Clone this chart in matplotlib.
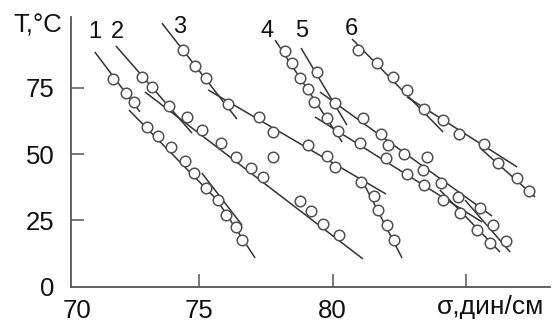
import matplotlib
matplotlib.use("Agg")
import matplotlib.pyplot as plt
import matplotlib.transforms as mtransforms

plt.rcParams['font.family'] = ['Liberation Sans', 'DejaVu Sans']

# ---- data (sigma, dyn/cm ; T, °C) ----
c1_sigma = [71.78, 72.27, 72.57, 73.05, 73.46, 73.95, 74.48, 74.81, 75.26, 75.71, 76.01, 76.39, 76.61]
c1_T     = [78.3, 73.0, 69.6, 60.2, 56.8, 52.6, 47.4, 42.8, 37.2, 32.6, 27.0, 22.5, 17.5]
c1_line_sigma = [[71.10, 72.79], [72.38, 75.86], [75.11, 76.61], [75.60, 77.10]]
c1_line_T     = [[88.5, 65.9], [66.6, 30.8], [42.8, 23.2], [33.8, 10.8]]

c2_sigma = [72.87, 73.24, 73.88, 74.55, 75.11, 75.82, 76.39, 76.95, 77.40, 78.78, 79.19, 79.64, 80.24]
c2_T     = [79.1, 75.3, 68.1, 64.0, 59.1, 54.2, 48.9, 44.7, 41.3, 32.3, 28.5, 23.6, 19.4]
c2_line_sigma = [[71.89, 74.74], [72.98, 81.14]]
c2_line_T     = [[90.8, 57.9], [73.4, 10.4]]

c3_sigma = [74.40, 74.85, 75.26, 76.09, 77.25, 77.77, 79.08, 79.79, 80.09, 81.07, 81.55, 81.70, 82.04, 82.30]
c3_T     = [89.3, 83.2, 78.7, 68.9, 64.0, 58.3, 53.4, 49.2, 45.1, 39.4, 34.2, 28.9, 23.2, 17.5]
c3_line_sigma = [[73.61, 76.42], [75.34, 82.00], [81.10, 82.60]]
c3_line_T     = [[99.4, 63.2], [74.2, 34.9], [40.2, 10.8]]

c4_sigma = [78.22, 78.48, 78.78, 79.08, 79.31, 79.79, 80.21, 81.03, 82.00, 82.79, 83.43, 84.14, 84.77, 85.41, 85.90]
c4_T     = [88.9, 84.3, 78.7, 74.5, 69.6, 63.6, 58.7, 54.2, 48.5, 42.5, 38.3, 32.6, 27.7, 21.3, 16.4]
c4_line_sigma = [[77.85, 80.36], [79.34, 85.60], [84.02, 86.27]]
c4_line_T     = [[93.0, 54.5], [64.0, 24.3], [36.4, 13.0]]

c5_sigma = [79.42, 80.09, 81.14, 81.82, 82.08, 82.68, 83.39, 84.06, 84.70, 85.52, 86.01, 86.50]
c5_T     = [81.0, 69.3, 63.6, 57.6, 53.4, 50.0, 44.0, 39.1, 33.8, 29.6, 23.2, 17.2]
c5_line_sigma = [[78.82, 80.54], [79.53, 85.97], [84.96, 86.65]]
c5_line_T     = [[90.0, 60.9], [73.4, 26.6], [32.6, 13.0]]

c6_sigma = [80.95, 81.67, 82.27, 82.79, 83.43, 84.14, 84.74, 85.67, 86.20, 86.91, 87.36]
c6_T     = [89.2, 84.3, 79.1, 74.2, 67.0, 62.8, 57.6, 53.8, 46.6, 40.9, 36.0]
c6_line_sigma = [[80.73, 84.14], [82.79, 86.91], [85.52, 87.58]]
c6_line_T     = [[93.4, 58.3], [71.5, 45.1], [52.3, 33.8]]

outlier_sigma = [77.77, 83.54]
outlier_T     = [48.9, 48.9]

curve_names = ['1', '2', '3', '4', '5', '6']
curve_label_sigma = [71.10, 71.93, 74.29, 77.55, 78.86, 80.69]
curve_label_T     = [96.0, 96.0, 97.9, 96.4, 96.4, 97.2]

xtick_pos = [70.43, 75, 80, 85]
xtick_labels = ['70', '75', '80', '']
ytick_pos = [0, 25, 50, 75]
ytick_labels = ['0', '25', '50', '75']
x_title = 'σ,дин/см'
y_title = 'T,°C'

# ---- figure ----
fig = plt.figure(figsize=(5.53, 3.26), dpi=100)
ax = fig.add_axes([71/553, 1-286.5/326, 479/553, (286.5-17)/326])
ax.set_xlim(70.21, 88.14)
ax.set_ylim(0, 101.7)

line_col = '#333333'
mk_col = '#505050'
curves = [
    (c1_sigma, c1_T, c1_line_sigma, c1_line_T),
    (c2_sigma, c2_T, c2_line_sigma, c2_line_T),
    (c3_sigma, c3_T, c3_line_sigma, c3_line_T),
    (c4_sigma, c4_T, c4_line_sigma, c4_line_T),
    (c5_sigma, c5_T, c5_line_sigma, c5_line_T),
    (c6_sigma, c6_T, c6_line_sigma, c6_line_T),
]
for xs, ys, lxs, lys in curves:
    for lx, ly in zip(lxs, lys):
        ax.plot(lx, ly, color=line_col, lw=1.1, zorder=2, solid_capstyle='butt')
    ax.plot(xs, ys, linestyle='none', marker='o', ms=7.6, mfc='white',
            mec=mk_col, mew=1.1, zorder=3)
ax.plot(outlier_sigma, outlier_T, linestyle='none', marker='o', ms=7.6,
        mfc='white', mec=mk_col, mew=1.1, zorder=3)

for name, sx, ty in zip(curve_names, curve_label_sigma, curve_label_T):
    ax.text(sx, ty, name, fontsize=17, ha='center', va='center', color='#111111')

for s in ['top', 'right']:
    ax.spines[s].set_visible(False)
for s in ['left', 'bottom']:
    ax.spines[s].set_color('#555555')
    ax.spines[s].set_linewidth(1.3)

ax.set_xticks(xtick_pos)
ax.set_xticklabels(xtick_labels)
ax.set_yticks(ytick_pos)
ax.set_yticklabels(ytick_labels)
ax.tick_params(axis='both', direction='in', length=9.5, width=1.1, color='#555555',
               labelcolor='#111111')
ax.tick_params(axis='x', labelsize=18.5, pad=9)
ax.tick_params(axis='y', labelsize=18.5, pad=12)
ax.xaxis.get_major_ticks()[0].tick1line.set_visible(False)
ax.yaxis.get_major_ticks()[0].tick1line.set_visible(False)

trans = mtransforms.blended_transform_factory(ax.transData, ax.transAxes)
ax.text(85.9, -0.076, x_title, transform=trans, fontsize=19, ha='center', va='center',
        color='#111111')
fig.text(38/553, 1-25/326, y_title, fontsize=18.5, ha='center', va='center', color='#111111')

fig.savefig('out.png', dpi=100, facecolor='white')
